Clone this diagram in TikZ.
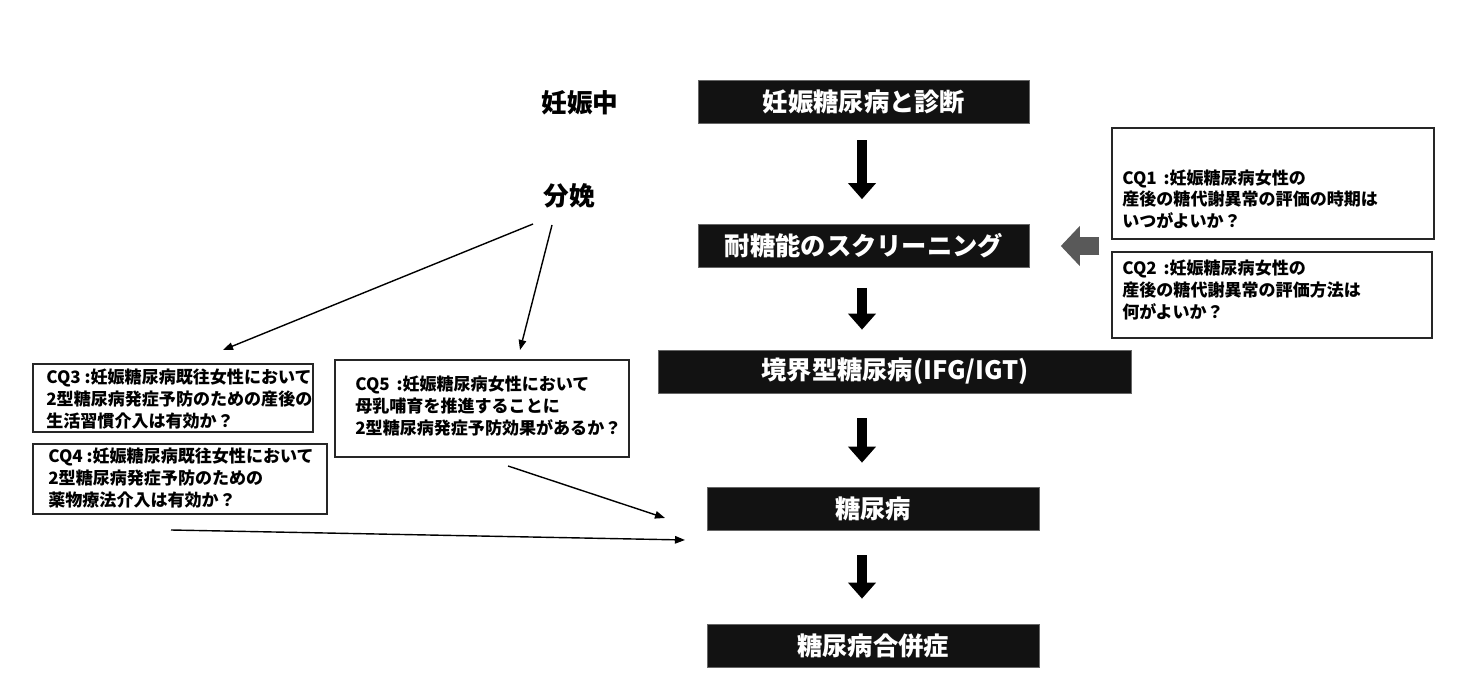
\documentclass[tikz,border=0pt]{standalone}
\usepackage{fontspec}
\setmainfont{Noto Sans CJK JP}
\usetikzlibrary{arrows.meta}

\tikzset{
    stagebox/.style={fill=black!93, draw=black!60, text=white, inner sep=0pt,
        minimum height=0.86cm, font=\bfseries\fontsize{14.4}{17}\selectfont},
    phase/.style={inner sep=0pt, font=\bfseries\fontsize{14.6}{17}\selectfont},
    cqbox/.style={draw=black!85, line width=0.8pt, inner sep=0pt},
    cqtext/.style={anchor=west, align=left, inner sep=0pt,
        font=\bfseries\fontsize{9.7}{12.3}\selectfont},
    bigarrow/.style={line width=0.2cm, -{Triangle[length=0.32cm,width=0.54cm]}},
    grayarrow/.style={draw=black!65, line width=0.36cm, -{Triangle[length=0.38cm,width=0.78cm]}},
    thinarrow/.style={line width=0.8pt, -{Triangle[length=0.2cm,width=0.15cm]}}
}

\begin{document}
\begin{tikzpicture}[x=0.02cm, y=-0.02cm]
    \useasboundingbox (0,0) rectangle (1468,682);

    % Stages
    \node[stagebox, minimum width=6.62cm] (diag) at (864,101.5) {妊娠糖尿病と診断};
    \node[stagebox, minimum width=6.62cm] (screen) at (864,246) {耐糖能のスクリーニング};
    \node[stagebox, minimum width=9.46cm] (border) at (895,371.5) {境界型糖尿病(IFG/IGT)};
    \node[stagebox, minimum width=6.64cm] (dm) at (873,508.5) {糖尿病};
    \node[stagebox, minimum width=6.64cm] (comp) at (873,645.5) {糖尿病合併症};

    \node[phase] (preg) at (580,103) {妊娠中};
    \node[phase] (birth) at (569,196) {分娩};

    \draw[bigarrow, shorten <=0.34cm, shorten >=0.5cm] (diag.south -| 862,0) -- (screen.north -| 862,0);
    \draw[bigarrow, shorten <=0.4cm, shorten >=0.4cm] (screen.south -| 862,0) -- (border.north -| 862,0);
    \draw[bigarrow, shorten <=0.5cm, shorten >=0.48cm] (border.south -| 862,0) -- (dm.north -| 862,0);
    \draw[bigarrow, shorten <=0.5cm, shorten >=0.5cm] (dm.south -| 862,0) -- (comp.north -| 862,0);

    % Clinical questions
    \node[cqbox, minimum width=6.44cm, minimum height=2.22cm] (cq1) at (1273,183.5) {};
    \node[cqtext] (cq1t) at (1122,199) {CQ1\hspace{0.4em}:妊娠糖尿病女性の\\産後の糖代謝異常の評価の時期は\\いつがよいか？};
    \node[cqbox, minimum width=6.4cm, minimum height=1.72cm] (cq2) at (1272,295) {};
    \node[cqtext] (cq2t) at (1122,290) {CQ2\hspace{0.4em}:妊娠糖尿病女性の\\産後の糖代謝異常の評価方法は\\何がよいか？};
    \node[cqbox, minimum width=5.6cm, minimum height=1.36cm] (cq3) at (173,398) {};
    \node[cqtext] (cq3t) at (46,399) {CQ3 :妊娠糖尿病既往女性において\\2型糖尿病発症予防のための産後の\\生活習慣介入は有効か？};
    \node[cqbox, minimum width=5.88cm, minimum height=1.4cm] (cq4) at (180,479) {};
    \node[cqtext] (cq4t) at (48,478) {CQ4 :妊娠糖尿病既往女性において\\2型糖尿病発症予防のための\\薬物療法介入は有効か？};
    \node[cqbox, minimum width=5.88cm, minimum height=1.94cm] (cq5) at (482,408.5) {};
    \node[cqtext] (cq5t) at (355,406) {CQ5\hspace{0.4em}:妊娠糖尿病女性において\\母乳哺育を推進することに\\2型糖尿病発症予防効果があるか？};

    \draw[grayarrow, shorten <=0.24cm, shorten >=0.62cm] (screen.east -| cq1.west) -- (screen.east);

    % Thin arrows
    \coordinate (b1) at (533,224);
    \coordinate (b2) at (552,225);
    \coordinate (t3) at (223,350);
    \coordinate (t5) at (520,350);
    \coordinate (s5) at (508,466);
    \coordinate (s4) at (171,530);
    \coordinate (e5) at (665,518);
    \coordinate (e4) at (685,540);
    \draw[thinarrow] (b1) -- (t3);
    \draw[thinarrow] (b2) -- (t5);
    \draw[thinarrow] (s5) -- (e5);
    \draw[thinarrow] (s4) -- (e4);
\end{tikzpicture}
\end{document}
